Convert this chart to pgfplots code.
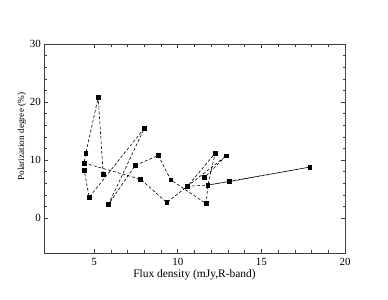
\documentclass[border=0pt]{standalone}
\usepackage{pgfplots}
\pgfplotsset{compat=1.18}
\usepackage{fontspec}
\setmainfont{Liberation Serif}
\begin{document}
\begin{tikzpicture}[x=1bp,y=1bp]
\useasboundingbox (0,0) rectangle (388,300);
\begin{axis}[
  at={(44bp,47bp)}, anchor=south west,
  scale only axis, width=301bp, height=209bp,
  xmin=2, xmax=20, ymin=-6, ymax=30,
  xtick={5,10,15,20}, ytick={0,10,20,30},
  xticklabels={5,10,15,20}, yticklabels={0,10,20,30},
  minor x tick num=4, minor y tick num=4,
  tick align=inside,
  major tick length=4bp, minor tick length=2.5bp,
  axis line style={black!75, line width=0.9pt},
  every tick/.style={black!75, line width=0.6pt},
  tick label style={font=\fontsize{11}{12}\selectfont, inner sep=0pt},
  xticklabel style={anchor=north, yshift=-5bp},
  yticklabel style={anchor=east, xshift=-3bp},
  xlabel={Flux density (mJy,R-band)},
  ylabel={Polarization degree (\%)},
  xlabel style={font=\fontsize{11.5}{12}\selectfont, inner sep=0pt, at={(axis description cs:0.5,0)}, anchor=north, yshift=-16.5bp},
  ylabel style={font=\fontsize{9.3}{10}\selectfont, inner sep=0pt, at={(axis description cs:-0.073,0.557)}, anchor=center},
  clip=false,
]
\addplot[black, densely dashed, line width=0.6pt, mark=square*, mark size=1.9pt, mark options={solid}]
coordinates {
(5.54,7.6) (5.24,20.8) (4.5,11.15) (4.4,9.5) (4.4,8.3) (4.7,3.6) (8.0,15.5) (5.86,2.4) (7.46,9.1) (8.84,10.8) (9.58,6.6) (11.7,2.5) (11.8,5.7) (12.24,11.2) (10.58,5.5) (12.9,10.75) (11.6,7.0)
};
\addplot[black, densely dashed, line width=0.6pt, mark=square*, mark size=1.9pt, mark options={solid}]
coordinates {
(4.4,9.5) (7.78,6.7) (9.34,2.7) (10.58,5.5) (11.8,5.7) (13.1,6.3) (17.9,8.8) (11.8,5.7)
};
\end{axis}
\end{tikzpicture}
\end{document}
